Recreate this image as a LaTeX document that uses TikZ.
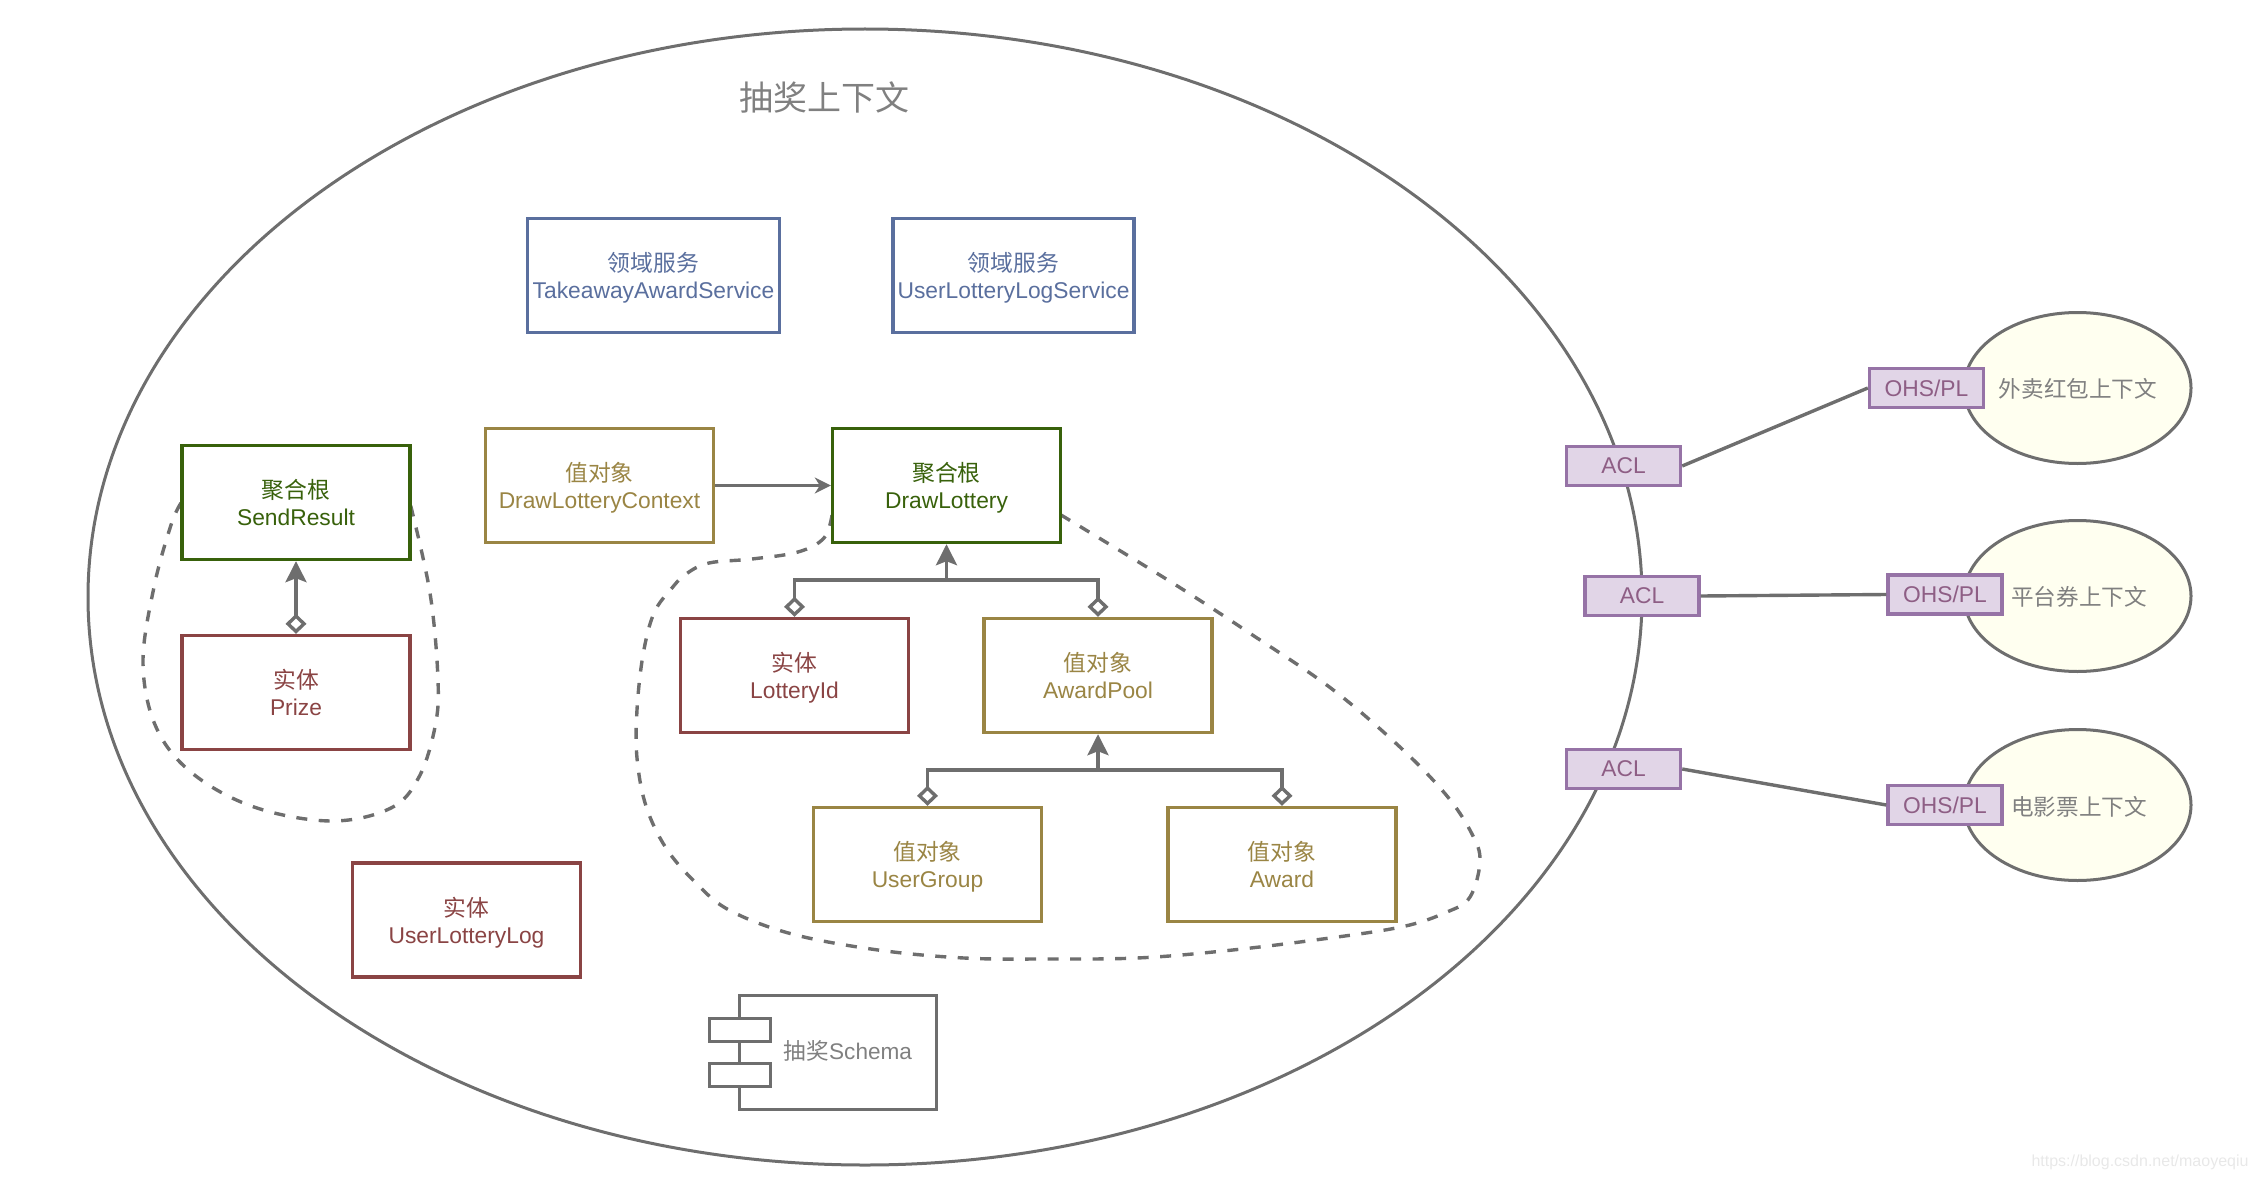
\documentclass[tikz,border=0pt]{standalone}
\usepackage{fontspec}
\setmainfont{Liberation Sans}
\newfontfamily\cjk{Noto Sans CJK SC}
\usetikzlibrary{arrows.meta,shapes.geometric}
\definecolor{rootgreen}{HTML}{38610B}
\definecolor{entityred}{HTML}{8A4444}
\definecolor{valuegold}{HTML}{9A8544}
\definecolor{serviceblue}{HTML}{5A6F9E}
\definecolor{aclborder}{HTML}{9673A6}
\definecolor{aclfill}{HTML}{E1D5E7}
\definecolor{acltext}{HTML}{8E5E85}
\definecolor{linegray}{HTML}{6E6E6E}
\definecolor{textgray}{HTML}{808080}
\definecolor{ctxfill}{HTML}{FFFFF0}
\newcommand{\twolines}[2]{{\cjk #1}\\\smash{#2}}
\tikzset{
  boxbase/.style={draw, line width=3.4pt, fill=white, minimum width=228pt, minimum height=114pt,
    align=center, inner sep=0pt, font=\fontsize{22.8}{27}\selectfont},
  rootbox/.style={boxbase, draw=rootgreen, text=rootgreen},
  entitybox/.style={boxbase, draw=entityred, text=entityred},
  valuebox/.style={boxbase, draw=valuegold, text=valuegold},
  servicebox/.style={boxbase, draw=serviceblue, text=serviceblue},
  aclbox/.style={draw=aclborder, fill=aclfill, text=acltext, line width=3.4pt, minimum width=114pt,
    minimum height=39pt, inner sep=0pt, font=\fontsize{22.8}{27}\selectfont},
  ctx/.style={draw=linegray, fill=ctxfill, line width=3pt, ellipse, minimum width=227pt, minimum height=151pt},
  graytext/.style={text=textgray, inner sep=0pt, font=\fontsize{22.6}{27}\selectfont},
  link/.style={draw=linegray, line width=3.4pt},
  aggr/.style={link, {Diamond[open, length=20pt, width=21pt, line width=3.4pt]}-},
  uparrow/.style={link, -{Stealth[length=21pt, width=21pt, inset=4pt]}},
  boundary/.style={draw=linegray, line width=3.4pt, dash pattern=on 11pt off 11.5pt}
}
\begin{document}
\begin{tikzpicture}[x=1pt, y=-1pt]
  \useasboundingbox (0,0) rectangle (2256,1180);

  % Bounded context
  \node[draw=linegray, line width=3pt, ellipse, minimum width=1554pt, minimum height=1136pt] (lotteryCtx) at (865,597) {};
  \node[text=textgray, inner sep=0pt, font=\fontsize{34}{40}\selectfont] (lotteryTitle) at (824,97) {\cjk 抽奖上下文};

  % Aggregate outlines
  \draw[boundary] plot[smooth, tension=0.6] coordinates {(181,503) (171,525) (154,587) (143,663) (156,727) (192,773)
    (254,807) (331,821) (391,808) (419,777) (435,727) (438,680) (430,593) (410,503)};
  \coordinate (lotteryLeft) at (832,515);
  \coordinate (lotteryRight) at (1061,515);
  \draw[boundary] plot[smooth, tension=0.6] coordinates {(lotteryLeft) (824,538) (798,552) (752,559) (709,563) (686,574)
    (672,588) (654,613) (643,655) (637,710) (637,758) (646,806) (666,848) (695,882) (729,910) (792,934) (878,950)
    (964,958) (1045,959) (1137,958) (1223,951) (1315,940) (1401,927) (1447,912) (1470,897) (1480,861) (1472,834)
    (1447,796) (1401,748) (1332,689) (1251,634) (1171,582) (lotteryRight)};

  % Domain services
  \node[servicebox, minimum width=252pt] (takeawayService) at (653.5,275.5) {\twolines{领域服务}{TakeawayAwardService}};
  \node[servicebox, minimum width=241pt] (logService) at (1013.5,275.5) {\twolines{领域服务}{UserLotteryLogService}};

  % Left aggregate
  \node[rootbox] (sendResult) at (296,502.5) {\twolines{聚合根}{SendResult}};
  \node[entitybox] (prize) at (296,692.5) {\twolines{实体}{Prize}};
  \node[entitybox] (userLog) at (466.5,920) {\twolines{实体}{UserLotteryLog}};

  % Right aggregate
  \node[valuebox] (drawContext) at (599.5,485.5) {\twolines{值对象}{DrawLotteryContext}};
  \node[rootbox] (drawLottery) at (946.5,485.5) {\twolines{聚合根}{DrawLottery}};
  \node[entitybox] (lotteryId) at (794.5,675.5) {\twolines{实体}{LotteryId}};
  \node[valuebox] (awardPool) at (1098,675.5) {\twolines{值对象}{AwardPool}};
  \node[valuebox] (userGroup) at (927.5,864.5) {\twolines{值对象}{UserGroup}};
  \node[valuebox] (award) at (1282,864.5) {\twolines{值对象}{Award}};

  % Relations
  \draw[link, -{Stealth[length=16pt, width=16pt, inset=5pt]}] (drawContext) -- (drawLottery);
  \draw[link, {Diamond[open, length=20pt, width=21pt, line width=3.4pt]}-{Stealth[length=21pt, width=21pt, inset=4pt]}] (prize) -- (sendResult);
  \coordinate (lotteryBar) at (946.5,580);
  \coordinate (poolBar) at (1098,770);
  \draw[uparrow] (lotteryBar) -- (drawLottery.south);
  \draw[aggr] (lotteryId.north) |- (lotteryBar);
  \draw[aggr] (awardPool.north) |- (lotteryBar);
  \draw[uparrow] (poolBar) -- (awardPool.south);
  \draw[aggr] (userGroup.north) |- (poolBar);
  \draw[aggr] (award.north) |- (poolBar);

  % Schema component
  \node[draw=linegray, line width=3.6pt, fill=white, minimum width=197pt, minimum height=114pt] (schema) at (838,1052.5) {};
  \node[draw=linegray, line width=3.6pt, fill=white, minimum width=61pt, minimum height=23pt] (schemaPortA) at (740,1030) {};
  \node[draw=linegray, line width=3.6pt, fill=white, minimum width=61pt, minimum height=23pt] (schemaPortB) at (740,1075) {};
  \node[graytext] (schemaLabel) at (848,1051) {{\cjk 抽奖}Schema};

  % Neighbouring contexts
  \node[ctx] (takeawayCtx) at (2077.5,388) {};
  \node[ctx] (platformCtx) at (2077.5,596) {};
  \node[ctx] (movieCtx) at (2077.5,805) {};
  \node[graytext] (takeawayLabel) at (2078,389) {\cjk 外卖红包上下文};
  \node[graytext] (platformLabel) at (2079,597) {\cjk 平台券上下文};
  \node[graytext] (movieLabel) at (2079,807) {\cjk 电影票上下文};

  \node[aclbox] (aclOne) at (1623.5,466) {ACL};
  \node[aclbox] (aclTwo) at (1642,596) {ACL};
  \node[aclbox] (aclThree) at (1623.5,769) {ACL};
  \node[aclbox] (ohsOne) at (1926.5,388) {OHS/PL};
  \node[aclbox] (ohsTwo) at (1945,594.5) {OHS/PL};
  \node[aclbox] (ohsThree) at (1945,805) {OHS/PL};
  \draw[link] (aclOne.east) -- (ohsOne.west);
  \draw[link] (aclTwo.east) -- (ohsTwo.west);
  \draw[link] (aclThree.east) -- (ohsThree.west);

  % Watermark
  \node[text=black!9, inner sep=0pt, font=\fontsize{16}{18}\selectfont] (watermark) at (2140,1162) {https://blog.csdn.net/maoyeqiu};
\end{tikzpicture}
\end{document}
